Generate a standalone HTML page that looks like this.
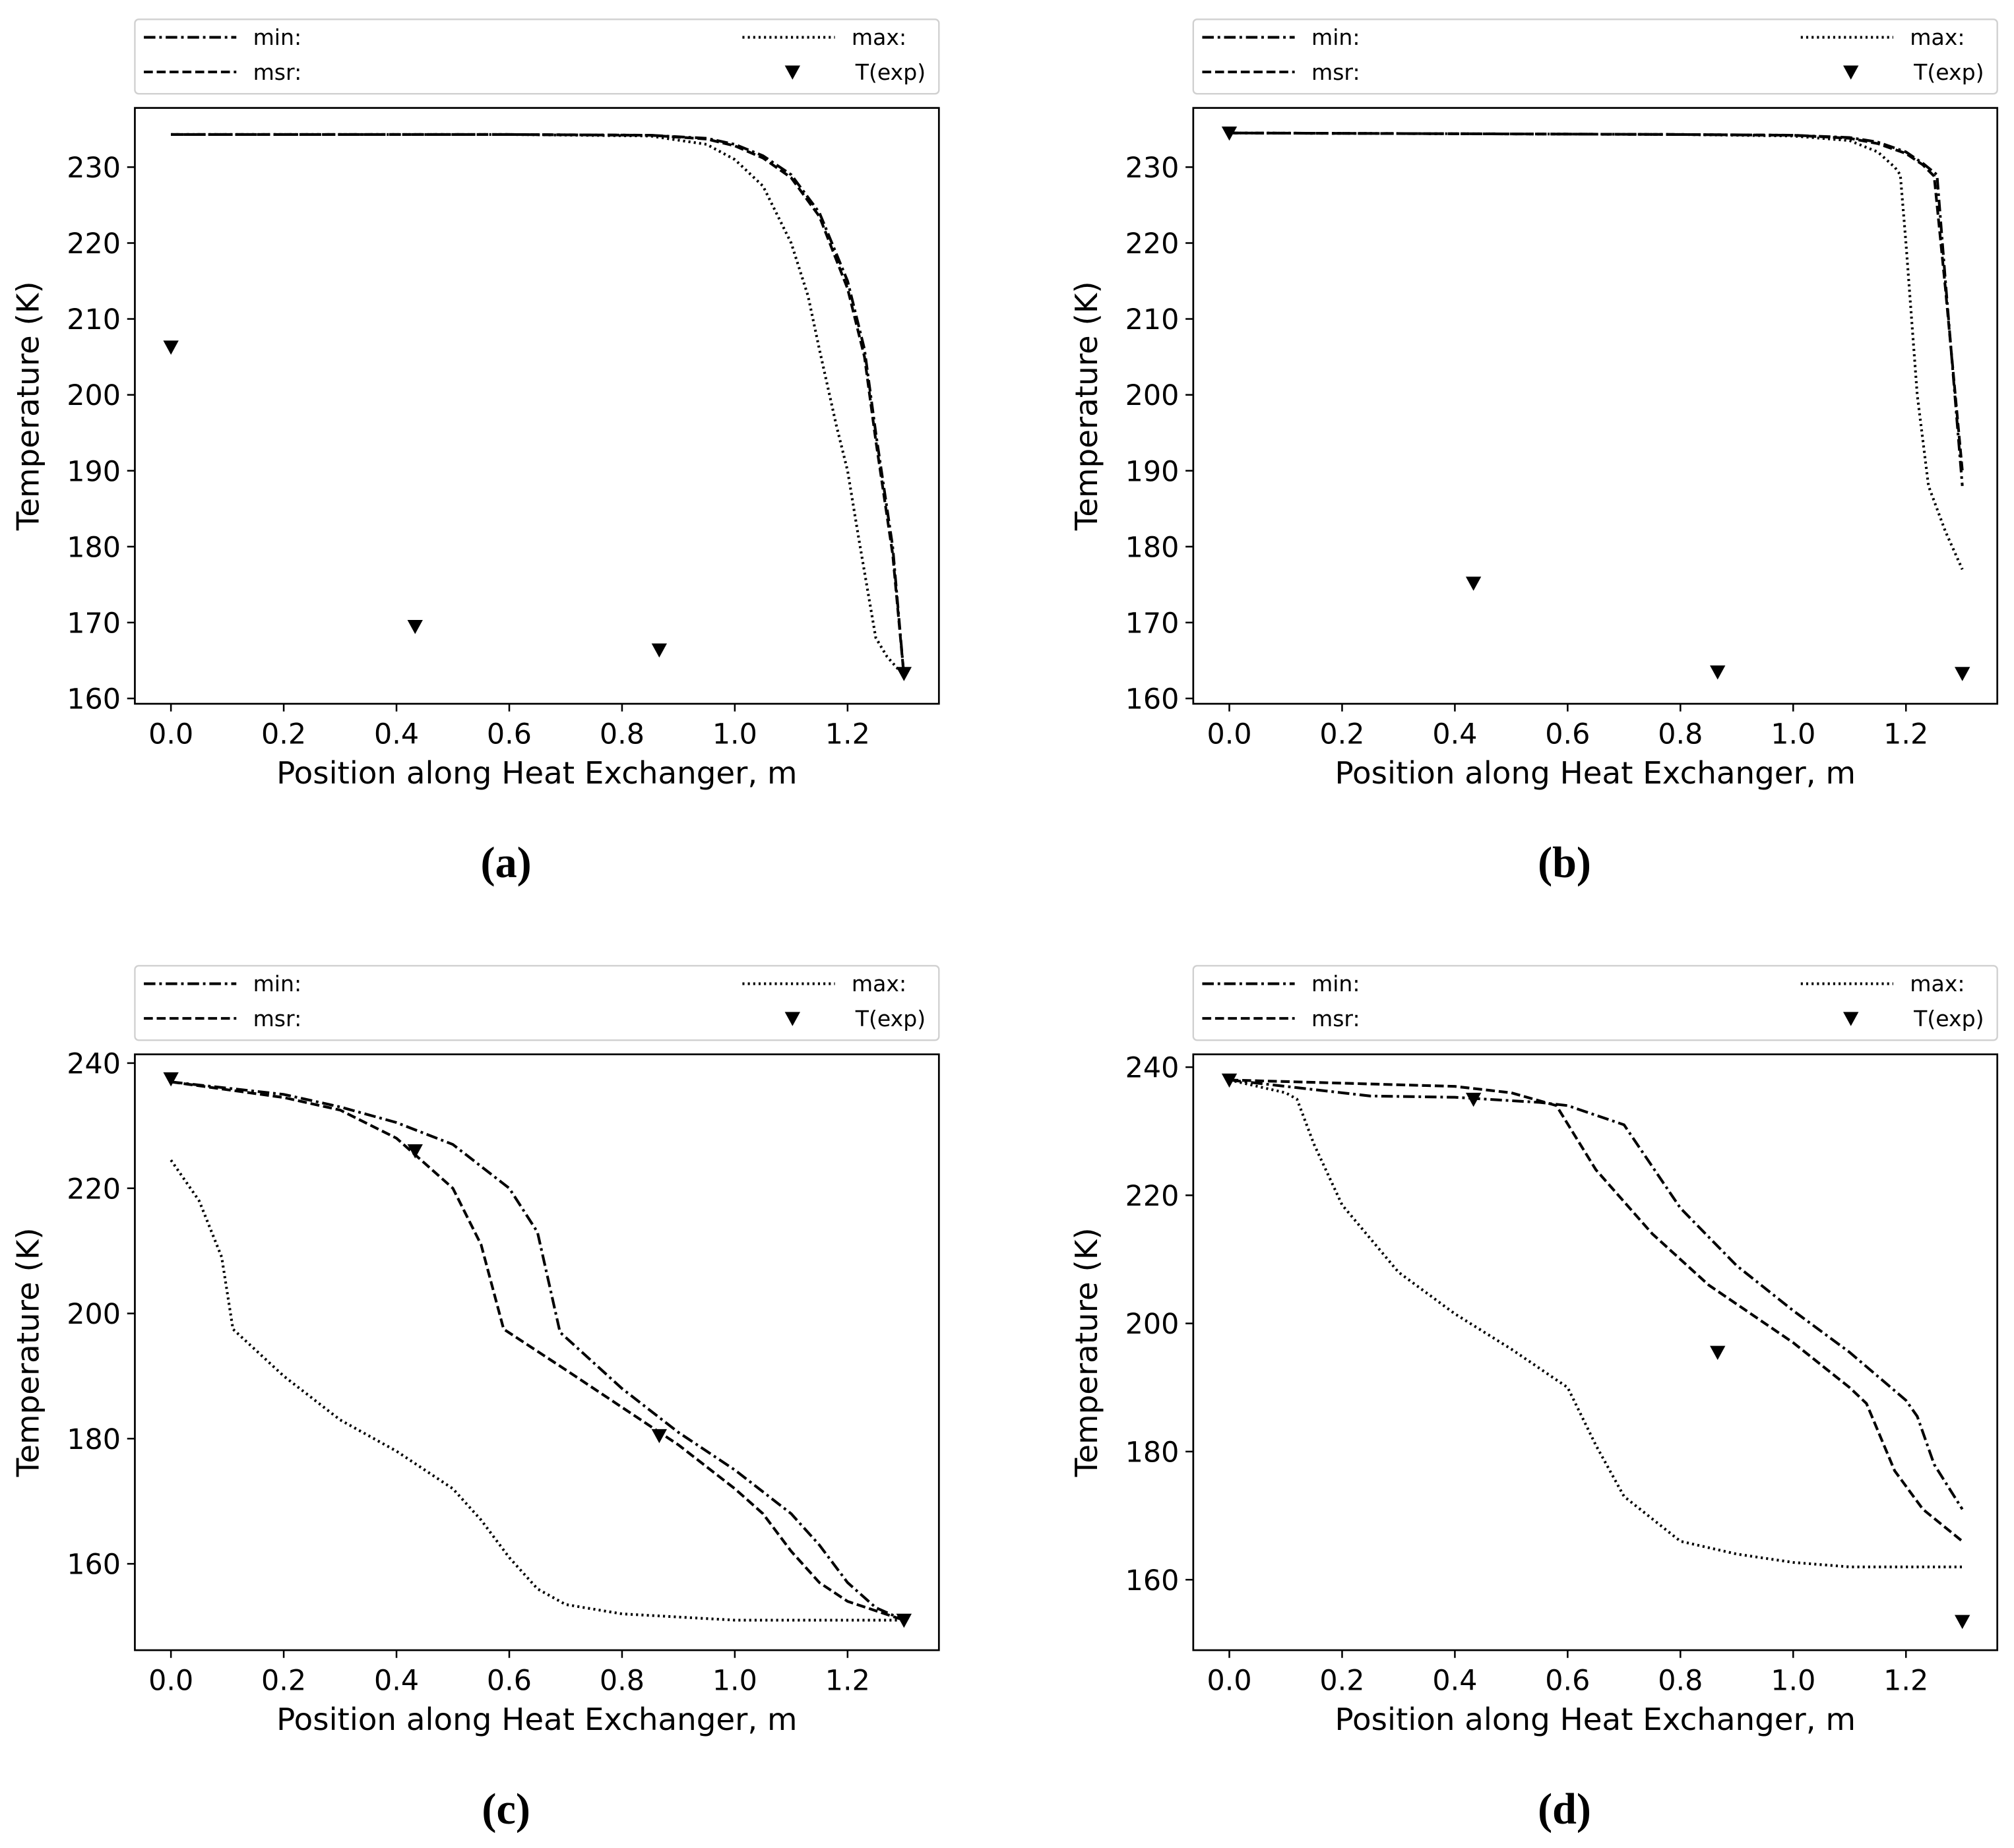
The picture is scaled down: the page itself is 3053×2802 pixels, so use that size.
<!DOCTYPE html>
<html><head><meta charset="utf-8"><style>
html,body{margin:0;padding:0;background:#fff}
svg{display:block}
text{font-family:"DejaVu Sans","Liberation Sans",sans-serif;fill:#000}
.cap{font-family:"Liberation Serif",serif;font-weight:bold}
</style></head><body>
<svg id="fig" width="3053" height="2802" viewBox="0 0 1568 1439" xmlns="http://www.w3.org/2000/svg"></svg>
<script>
// Panel (a)
const aMinX=[0,0.3,0.6,0.85,0.95,1.0,1.05,1.1,1.15,1.2,1.23,1.25,1.28,1.3];
const aMinY=[234.3,234.3,234.3,234.2,233.8,233,231.5,229,224,215,206,195,180,163];
const aMsrX=[0,0.3,0.6,0.85,0.95,1.0,1.05,1.1,1.15,1.2,1.23,1.25,1.28,1.3];
const aMsrY=[234.3,234.3,234.3,234.2,233.7,232.8,231.2,228.6,223.5,214,205,194,179,163];
const aMaxX=[0,0.3,0.6,0.85,0.95,1.0,1.05,1.1,1.13,1.15,1.18,1.2,1.22,1.25,1.27,1.3];
const aMaxY=[234.3,234.3,234.3,234.1,233,231,227.5,220,213,206,196,190,181,168,165.5,163];
const aExpX=[0,0.433,0.866,1.3];
const aExpY=[206.3,169.5,166.4,163.3];
// Panel (b)
const bMinX=[0,0.4,0.8,1.0,1.1,1.15,1.2,1.23,1.255,1.27,1.3];
const bMinY=[234.5,234.4,234.3,234.2,233.9,233.3,232,230.5,229,215,188];
const bMsrX=[0,0.4,0.8,1.0,1.1,1.15,1.2,1.23,1.25,1.27,1.3];
const bMsrY=[234.5,234.4,234.3,234.2,233.8,233.1,231.8,230.3,228.8,214,190];
const bMaxX=[0,0.4,0.8,1.0,1.1,1.15,1.18,1.19,1.2,1.22,1.24,1.27,1.3];
const bMaxY=[234.5,234.4,234.3,234.1,233.5,232,230,229,220,200,188,182,177];
const bExpX=[0,0.433,0.866,1.3];
const bExpY=[234.5,175.2,163.5,163.3];
// Panel (c)
const cMinX=[0,0.2,0.3,0.4,0.5,0.6,0.65,0.69,0.8,0.9,1.0,1.1,1.15,1.2,1.25,1.3];
const cMinY=[237,235,233,230.5,227,220,213,197,188,181,175,168,163,157,153,151];
const cMsrX=[0,0.2,0.3,0.4,0.5,0.55,0.59,0.7,0.8,0.9,1.0,1.05,1.1,1.15,1.2,1.3];
const cMsrY=[237,234.5,232.5,228,220,211,197.5,191,185,179,172,168,162,157,154,151];
const cMaxX=[0,0.05,0.09,0.11,0.2,0.3,0.4,0.5,0.55,0.6,0.65,0.7,0.8,1.0,1.3];
const cMaxY=[224.5,218,209,197.5,190,183,178,172,167,161,156,153.5,152,151,151];
const cExpX=[0,0.433,0.866,1.3];
const cExpY=[237.5,226,180.5,151];
// Panel (d)
const dMinX=[0,0.1,0.25,0.4,0.55,0.6,0.7,0.8,0.9,1.0,1.1,1.2,1.22,1.25,1.3];
const dMinY=[238,237,235.5,235.3,234.5,234,231,218,209,202,195.5,188,185.5,178,171];
const dMsrX=[0,0.2,0.4,0.5,0.58,0.65,0.75,0.85,1.0,1.1,1.13,1.18,1.23,1.3];
const dMsrY=[238,237.5,237,236,234,224,214,206,197,190,187.5,177,171,166];
const dMaxX=[0,0.1,0.12,0.15,0.2,0.3,0.4,0.5,0.6,0.65,0.7,0.8,0.9,1.0,1.1,1.3];
const dMaxY=[238,236,235,228,218.5,208,201.5,196,190,181,173,166,164,162.7,162,162];
const dExpX=[0,0.433,0.866,1.3];
const dExpY=[238,235,195.5,153.5];
const xTicks=[0,0.2,0.4,0.6,0.8,1.0,1.2];
const yTicksAB=[160,170,180,190,200,210,220,230];
const yTicksCD=[160,180,200,220,240];

const NS="http://www.w3.org/2000/svg";
const svg=document.getElementById('fig');
function mk(tag,attrs,parent){const e=document.createElementNS(NS,tag);for(const k in attrs)e.setAttribute(k,attrs[k]);(parent||svg).appendChild(e);return e;}
const DD="9,3,2,3",DS="7,3",DT="1.6,2.6";

function panel(cfg){
  const g=mk('g',{});
  
  
  const L=cfg.x0,R=cfg.x0+626,T=cfg.y0,B=cfg.y0+464;
  const xs=v=>L+(v-(-0.064))*(R-L)/(1.362+0.064);
  const ys=v=>B-(v-cfg.ymin)*(B-T)/(cfg.ymax-cfg.ymin);
  const lg=mk('g',{},g);
  
  
  const ly=T-69;
  mk('rect',{x:L,y:ly,width:626,height:58,rx:3,fill:'#fff',stroke:'#d0d0d0','stroke-width':1.2},lg);
  const ents=[[7,14,DD,'min:'],[7,41,DS,'msr:'],[473,14,DT,'max:']];
  ents.forEach(e=>{
    const ln=mk('line',{x1:L+e[0],x2:L+e[0]+72,y1:ly+e[1],y2:ly+e[1],stroke:'#000','stroke-width':2.1,'stroke-dasharray':e[2]},lg);
    
    
    const t=mk('text',{x:L+e[0]+85,y:ly+e[1]+6,'font-size':17},lg);t.textContent=e[3];
    
    
  });
  const tm=mk('path',{d:`M${L+506},${ly+36} l12,0 l-6,11 z`,fill:'#000'},lg);
  
  
  const tt=mk('text',{x:L+561,y:ly+47,'font-size':17},lg);tt.textContent='T(exp)';
  
  
  const cpth=mk('clipPath',{id:'cp'+cfg.id},g);
  mk('rect',{x:L,y:T,width:R-L,height:B-T},cpth);
  const series=[[cfg.minX,cfg.minY,DD,'min'],[cfg.msrX,cfg.msrY,DS,'msr'],[cfg.maxX,cfg.maxY,DT,'max']];
  series.forEach(s=>{
    const d=s[0].map((v,i)=>(i?'L':'M')+xs(v).toFixed(2)+','+ys(s[1][i]).toFixed(2)).join(' ');
    const p=mk('path',{d:d,fill:'none',stroke:'#000','stroke-width':2.1,'stroke-dasharray':s[2],'clip-path':`url(#cp${cfg.id})`},g);
    
    
  });
  cfg.expX.forEach((v,i)=>{
    const px=xs(v),py=ys(cfg.expY[i]);
    const m=mk('path',{d:`M${px-6},${py-5} l12,0 l-6,11 z`,fill:'#000'},g);
    
    
  });
  const fr=mk('rect',{x:L,y:T,width:R-L,height:B-T,fill:'none',stroke:'#000','stroke-width':1.4},g);
  
  
  xTicks.forEach(v=>{
    const px=xs(v);
    mk('line',{x1:px,x2:px,y1:B,y2:B+6,stroke:'#000','stroke-width':1.3},g);
    const t=mk('text',{x:px,y:B+31,'font-size':22,'text-anchor':'middle'},g);t.textContent=v.toFixed(1);
    
    
  });
  cfg.yTicks.forEach(v=>{
    const py=ys(v);
    mk('line',{x1:L-6,x2:L,y1:py,y2:py,stroke:'#000','stroke-width':1.3},g);
    const t=mk('text',{x:L-11,y:py+8,'font-size':22,'text-anchor':'end'},g);t.textContent=v;
    
    
  });
  const xl=mk('text',{x:(L+R)/2,y:B+62,'font-size':24,'text-anchor':'middle'},g);xl.textContent='Position along Heat Exchanger, m';
  
  
  const yl=mk('text',{x:0,y:0,'font-size':24,'text-anchor':'middle',transform:`translate(${L-75},${(T+B)/2}) rotate(-90)`},g);yl.textContent='Temperature (K)';
  
  
  const cp=mk('text',{x:(L+R)/2-24,y:B+135,'font-size':34,'text-anchor':'middle','class':'cap'},g);cp.textContent='('+cfg.id+')';
  
  
}
panel({id:'a',x0:105,y0:84,ymin:159.3,ymax:237.8,yTicks:yTicksAB,minX:aMinX,minY:aMinY,msrX:aMsrX,msrY:aMsrY,maxX:aMaxX,maxY:aMaxY,expX:aExpX,expY:aExpY});
panel({id:'b',x0:929,y0:84,ymin:159.3,ymax:237.8,yTicks:yTicksAB,minX:bMinX,minY:bMinY,msrX:bMsrX,msrY:bMsrY,maxX:bMaxX,maxY:bMaxY,expX:bExpX,expY:bExpY});
panel({id:'c',x0:105,y0:821,ymin:146.2,ymax:241.4,yTicks:yTicksCD,minX:cMinX,minY:cMinY,msrX:cMsrX,msrY:cMsrY,maxX:cMaxX,maxY:cMaxY,expX:cExpX,expY:cExpY});
panel({id:'d',x0:929,y0:821,ymin:149,ymax:242,yTicks:yTicksCD,minX:dMinX,minY:dMinY,msrX:dMsrX,msrY:dMsrY,maxX:dMaxX,maxY:dMaxY,expX:dExpX,expY:dExpY});
</script>
</body></html>
